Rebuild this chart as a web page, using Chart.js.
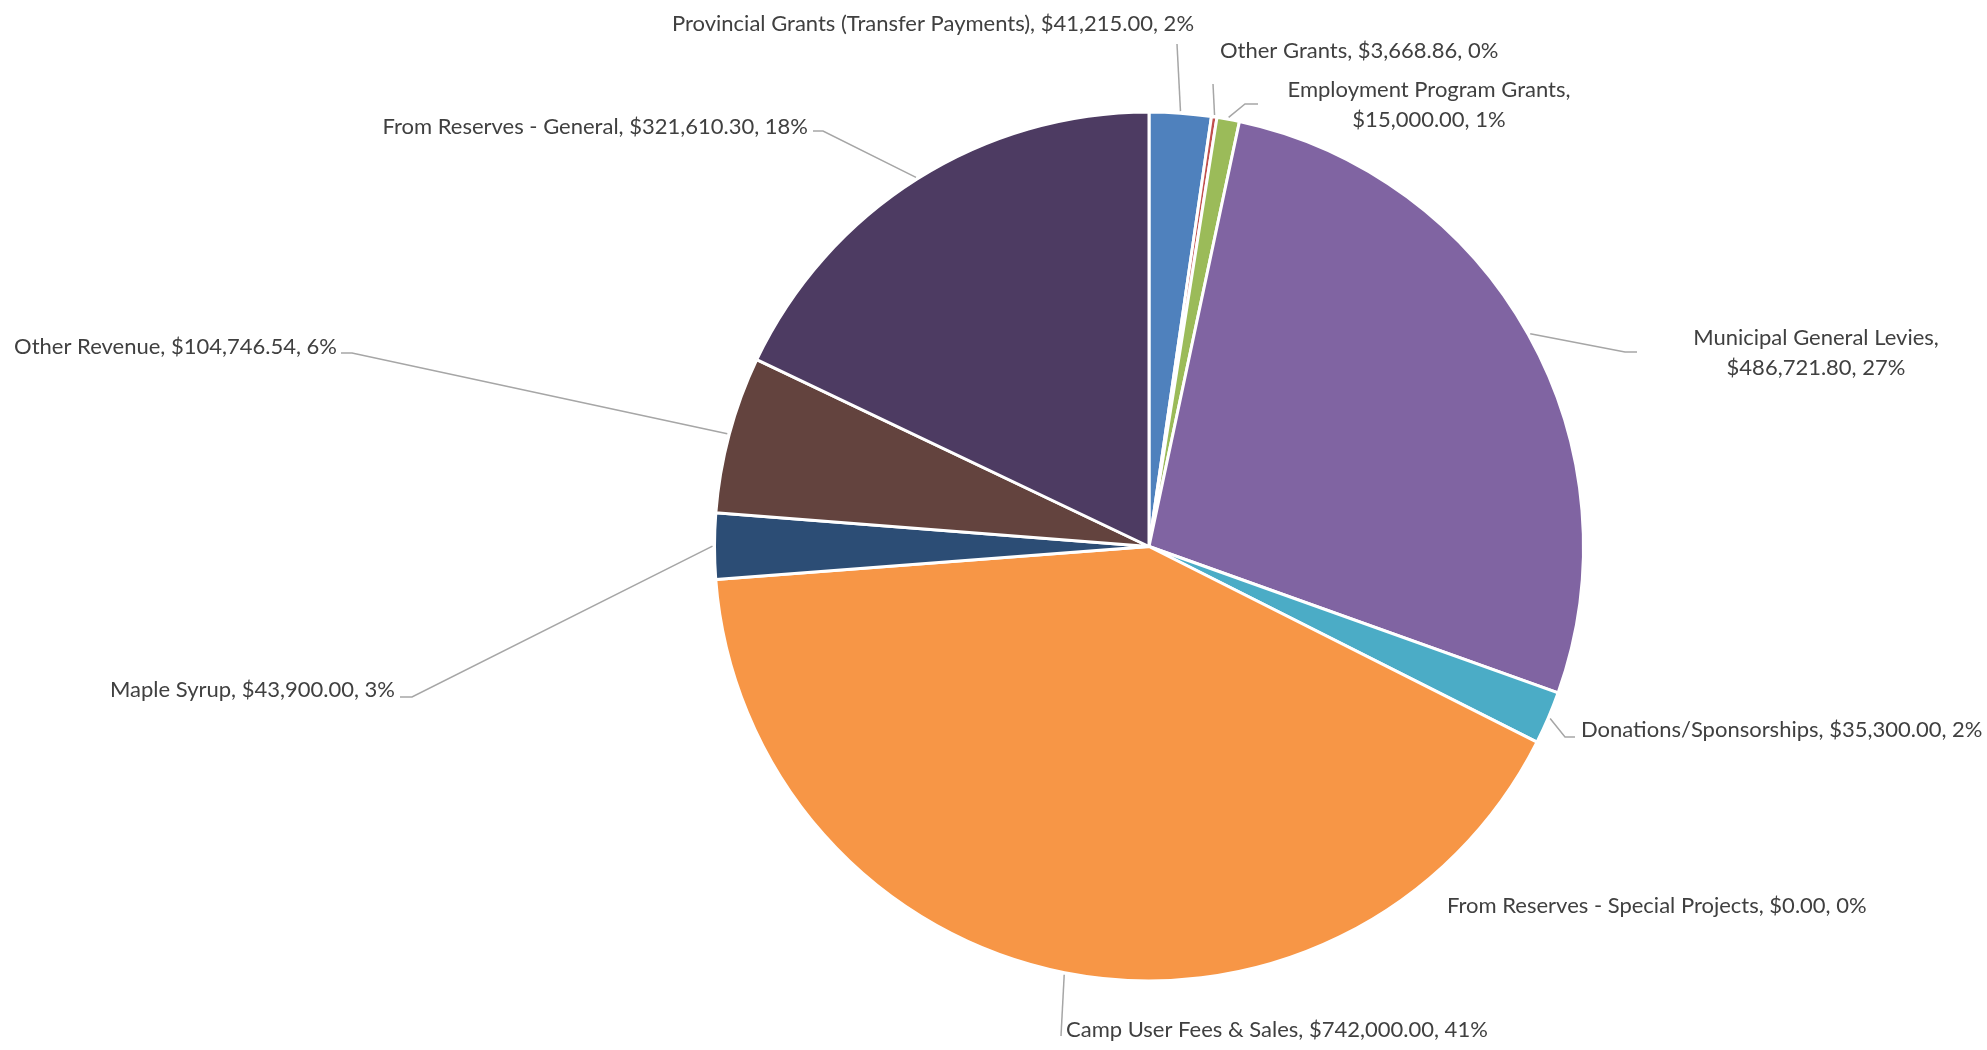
<!DOCTYPE html>
<html>
<head>
<meta charset="utf-8">
<title>Revenue Breakdown</title>
<script src="https://cdn.jsdelivr.net/npm/chart.js"></script>
<style>
  html, body { margin: 0; padding: 0; background: #ffffff; }
  #wrap { width: 1987px; height: 1050px; position: relative; }
</style>
</head>
<body>
<div id="wrap"><canvas id="revenueChart" width="1987" height="1050"></canvas></div>
<script>
// Revenue categories, clockwise from 12 o'clock
const categories = [
    'Provincial Grants (Transfer Payments)',
    'Other Grants',
    'Employment Program Grants',
    'Municipal General Levies',
    'Donations/Sponsorships',
    'From Reserves - Special Projects',
    'Camp User Fees & Sales',
    'Maple Syrup',
    'Other Revenue',
    'From Reserves - General'
];
const amounts = [41215.00, 3668.86, 15000.00, 486721.80, 35300.00, 0.00, 742000.00, 43900.00, 104746.54, 321610.30];
const percentLabels = ['2%', '0%', '1%', '27%', '2%', '0%', '41%', '3%', '6%', '18%'];

const sliceColors = ['#4F81BD', '#C0504D', '#9BBB59', '#8064A2', '#4BACC6', '#F79646', '#F79646', '#2C4D75', '#63433E', '#4D3B62'];

// label placement: text anchor + leader path (start point comes from the slice)
const labelLayout = [
    { x: 933, y: 24, align: 'center', path: [[1177, 44]] },
    { x: 1220, y: 51, align: 'left', path: [[1213, 84]] },
    { x: 1429, y: 90, align: 'center', split: true, path: [[1245, 104], [1258, 104]] },
    { x: 1816, y: 338, align: 'center', split: true, path: [[1625, 352], [1637, 352]] },
    { x: 1581, y: 730, align: 'left', path: [[1565, 737], [1575, 737]] },
    { x: 1447, y: 906, align: 'left', path: null },
    { x: 1066, y: 1030, align: 'left', path: [[1061, 1036]] },
    { x: 395, y: 690, align: 'right', path: [[412, 697], [400, 697]] },
    { x: 337, y: 347, align: 'right', path: [[352, 353], [341, 353]] },
    { x: 808, y: 127, align: 'right', path: [[823, 131], [813, 131]] }
];

const money = v => '$' + v.toLocaleString('en-US', { minimumFractionDigits: 2, maximumFractionDigits: 2 });

const calloutPlugin = {
    id: 'callouts',
    afterDraw: (chart) => {
        const ctx = chart.ctx;
        const meta = chart.getDatasetMeta(0);
        ctx.save();
        ctx.font = '22px Lato, "Open Sans", sans-serif';
        ctx.fillStyle = '#404040';
        ctx.textBaseline = 'middle';
        meta.data.forEach((arc, i) => {
            const lay = labelLayout[i];
            const p = arc.getProps(['x', 'y', 'startAngle', 'endAngle', 'outerRadius'], true);
            const mid = (p.startAngle + p.endAngle) / 2;
            const r = p.outerRadius + 2;
            if (lay.path) {
                ctx.beginPath();
                ctx.strokeStyle = '#A6A6A6';
                ctx.lineWidth = 1.5;
                ctx.moveTo(p.x + Math.cos(mid) * r, p.y + Math.sin(mid) * r);
                lay.path.forEach(pt => ctx.lineTo(pt[0], pt[1]));
                ctx.stroke();
            }
            const name = categories[i];
            const rest = money(amounts[i]) + ', ' + percentLabels[i];
            ctx.textAlign = lay.align;
            if (lay.split) {
                ctx.fillText(name + ',', lay.x, lay.y);
                ctx.fillText(rest, lay.x, lay.y + 30);
            } else {
                ctx.fillText(name + ', ' + rest, lay.x, lay.y);
            }
        });
        ctx.restore();
    }
};

new Chart(document.getElementById('revenueChart'), {
    type: 'pie',
    data: {
        labels: categories,
        datasets: [{
            data: amounts,
            backgroundColor: sliceColors,
            borderColor: '#ffffff',
            borderWidth: 3
        }]
    },
    options: {
        responsive: false,
        animation: false,
        layout: { padding: { top: 109, bottom: 66, left: 713, right: 402 } },
        plugins: {
            legend: { display: false },
            tooltip: { enabled: false }
        }
    },
    plugins: [calloutPlugin]
});
</script>
</body>
</html>
